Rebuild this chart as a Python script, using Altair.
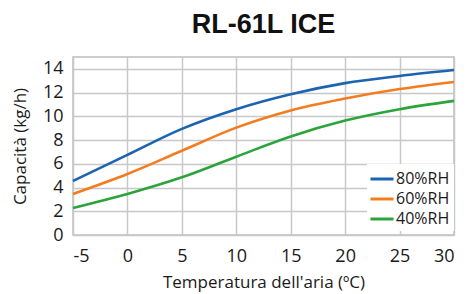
import altair as alt
import pandas as pd

temps = [-5, 0, 5, 10, 15, 20, 25, 30]
rh80 = [4.55, 6.75, 8.94, 10.6, 11.86, 12.8, 13.4, 13.9]
rh60 = [3.46, 5.14, 7.1, 9.05, 10.5, 11.5, 12.3, 12.9]
rh40 = [2.28, 3.46, 4.86, 6.6, 8.3, 9.64, 10.6, 11.3]
series = ["80%RH", "60%RH", "40%RH"]
colors = ["#1c63b2", "#f47c20", "#2ca43c"]

rows = []
for name, vals in zip(series, [rh80, rh60, rh40]):
    for t, v in zip(temps, vals):
        rows.append({"t": t, "v": v, "s": name})
df = pd.DataFrame(rows)

font = "Open Sans"

chart = alt.Chart(df).mark_line(strokeWidth=2.6, interpolate="monotone").encode(
    x=alt.X("t:Q", scale=alt.Scale(domain=[-5, 30], nice=False),
            axis=alt.Axis(values=temps, title="Temperatura dell'aria (ºC)",
                          labelExpr="replace(datum.label, '−', '-')",
                          ticks=False, labelPadding=12, titlePadding=9,
                          labelFontSize=18, titleFontSize=17, labelFont=font, titleFont=font,
                          labelColor="#1a1a1a", titleColor="#1a1a1a", titleFontWeight="normal",
                          domain=False, gridColor="#c8c8c8", gridWidth=1.5)),
    y=alt.Y("v:Q", scale=alt.Scale(domain=[0, 15], nice=False),
            axis=alt.Axis(values=[0, 2, 4, 6, 8, 10, 12, 14], title="Capacità (kg/h)",
                          ticks=False, labelPadding=10, titlePadding=13,
                          labelFontSize=18, titleFontSize=17, labelFont=font, titleFont=font,
                          labelColor="#1a1a1a", titleColor="#1a1a1a", titleFontWeight="normal",
                          domain=False, gridColor="#c8c8c8", gridWidth=1.5)),
    color=alt.Color("s:N", scale=alt.Scale(domain=series, range=colors),
                    legend=alt.Legend(title=None, orient="none", legendX=294, legendY=107,
                                      symbolType="M-1.25,0H1.25", symbolStrokeWidth=3,
                                      symbolSize=340,
                                      labelFontSize=16, labelFont=font, labelColor="#1a1a1a",
                                      labelOffset=3, rowPadding=1, fillColor="white",
                                      padding=4)),
).properties(
    width=381, height=178,
    title=alt.TitleParams("RL-61L ICE", fontSize=27, font="Liberation Sans", fontWeight="bold",
                          anchor="middle", frame="group", offset=18, color="#111111"),
    autosize=alt.AutoSizeParams(type="none"),
    padding={"left": 65, "top": 49, "right": 8, "bottom": 58},
).configure_view(stroke="#bdbdbd", strokeWidth=1.5)

chart.save("out.html", embed_options={"renderer": "svg", "actions": False})
